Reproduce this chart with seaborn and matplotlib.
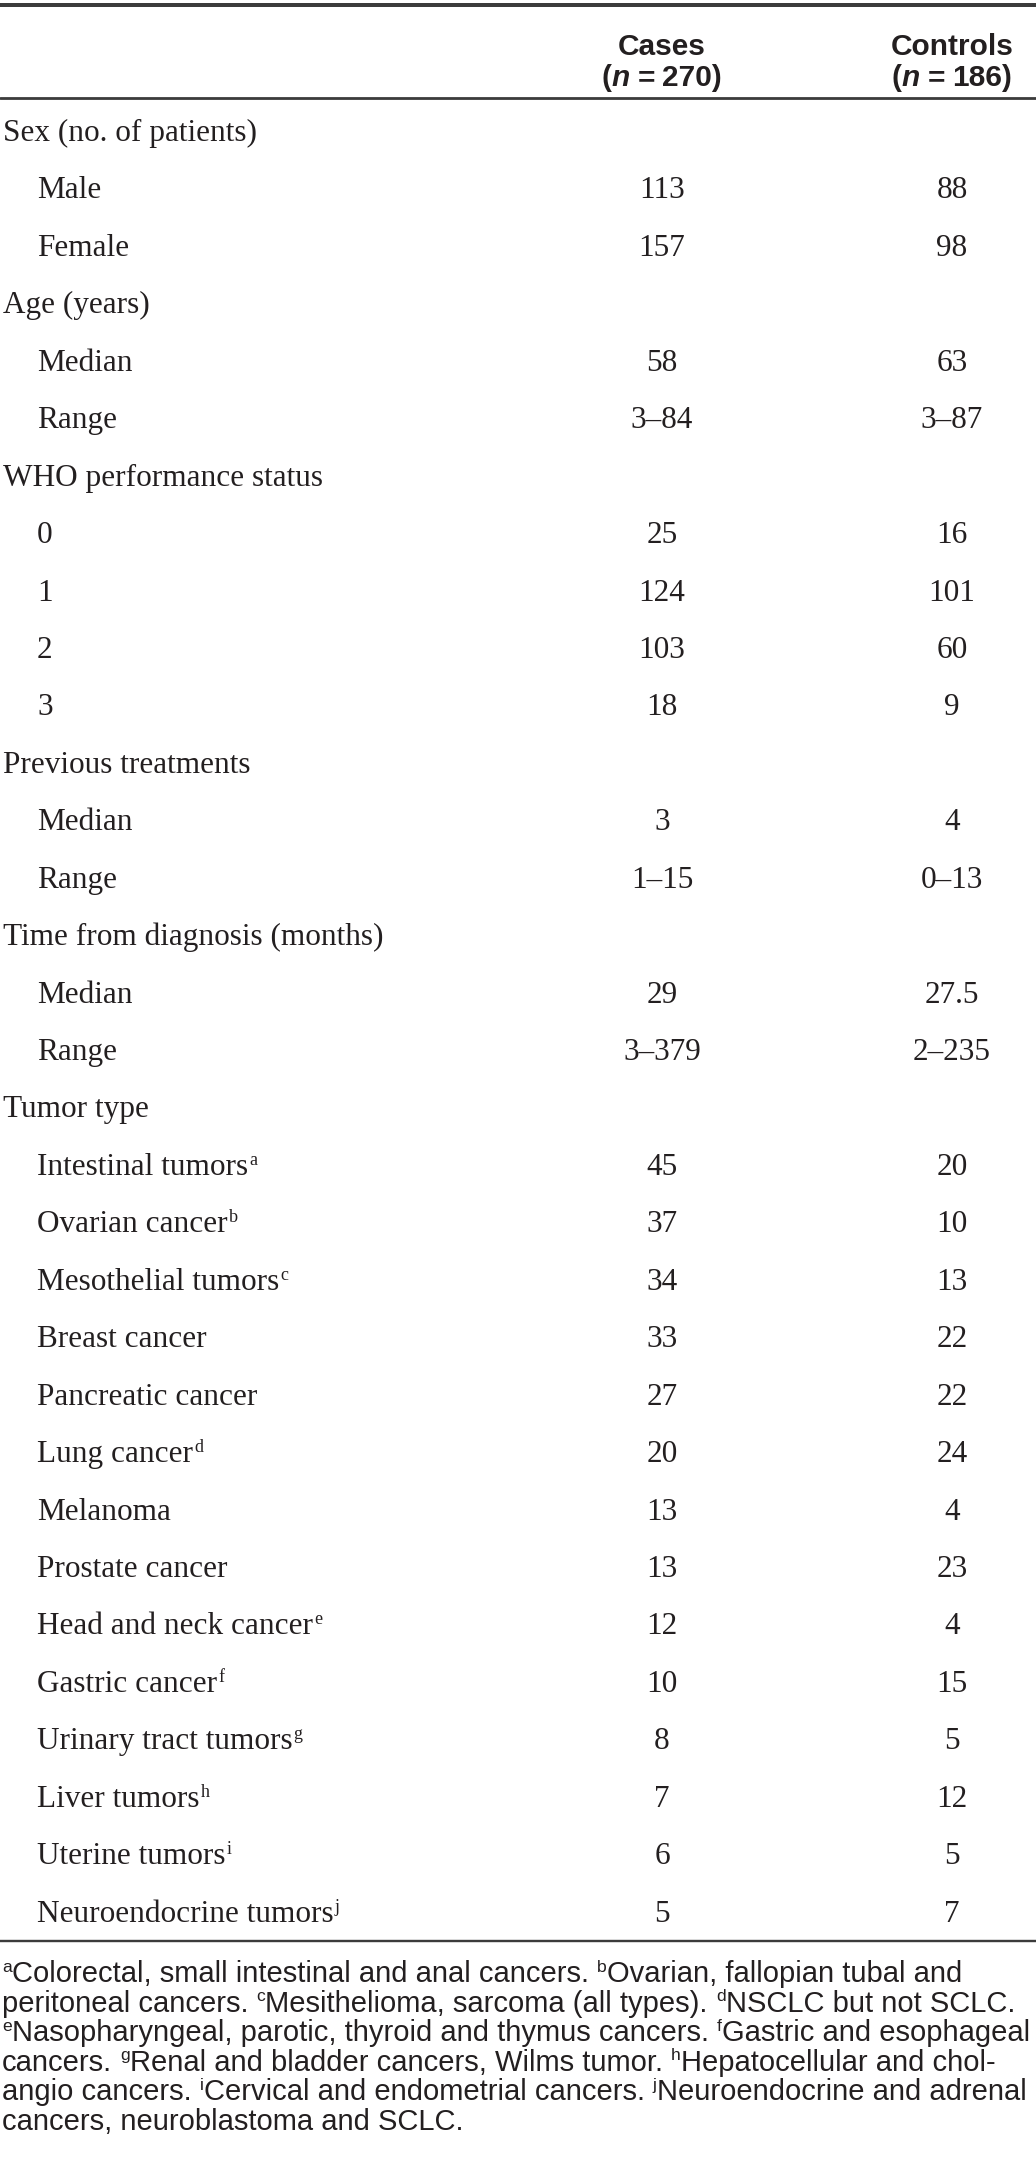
import re
import matplotlib
matplotlib.use("Agg")
import matplotlib.pyplot as plt
from matplotlib import font_manager as fm
import seaborn as sns
import pandas as pd

# ---------------- data ----------------
col_headers = ["Cases", "Controls"]
col_n = ["270", "186"]

row_labels = [
    "Sex (no. of patients)", "Male", "Female",
    "Age (years)", "Median", "Range",
    "WHO performance status", "0", "1", "2", "3",
    "Previous treatments", "Median", "Range",
    "Time from diagnosis (months)", "Median", "Range",
    "Tumor type",
    "Intestinal tumors", "Ovarian cancer", "Mesothelial tumors", "Breast cancer",
    "Pancreatic cancer", "Lung cancer", "Melanoma", "Prostate cancer",
    "Head and neck cancer", "Gastric cancer", "Urinary tract tumors",
    "Liver tumors", "Uterine tumors", "Neuroendocrine tumors",
]
row_level = [0, 1, 1, 0, 1, 1, 0, 1, 1, 1, 1, 0, 1, 1, 0, 1, 1, 0,
             1, 1, 1, 1, 1, 1, 1, 1, 1, 1, 1, 1, 1, 1]
row_sup = ["", "", "", "", "", "", "", "", "", "", "", "", "", "", "", "", "", "",
           "a", "b", "c", "", "", "d", "", "", "e", "f", "g", "h", "i", "j"]
cases = ["", "113", "157", "", "58", "3–84", "", "25", "124", "103", "18",
         "", "3", "1–15", "", "29", "3–379", "",
         "45", "37", "34", "33", "27", "20", "13", "13", "12", "10", "8", "7", "6", "5"]
controls = ["", "88", "98", "", "63", "3–87", "", "16", "101", "60", "9",
            "", "4", "0–13", "", "27.5", "2–235", "",
            "20", "10", "13", "22", "22", "24", "4", "23", "4", "15", "5", "12", "5", "7"]

footnote_lines = [
    "{a}Colorectal, small intestinal and anal cancers. {b}Ovarian, fallopian tubal and",
    "peritoneal cancers. {c}Mesithelioma, sarcoma (all types). {d}NSCLC but not SCLC.",
    "{e}Nasopharyngeal, parotic, thyroid and thymus cancers. {f}Gastric and esophageal",
    "cancers. {g}Renal and bladder cancers, Wilms tumor. {h}Hepatocellular and chol-",
    "angio cancers. {i}Cervical and endometrial cancers. {j}Neuroendocrine and adrenal",
    "cancers, neuroblastoma and SCLC.",
]

table = pd.DataFrame({"label": row_labels, "level": row_level, "sup": row_sup,
                      "cases": cases, "controls": controls})

# ---------------- style ----------------
sns.set_theme(style="white")
plt.rcParams["font.family"] = ["Liberation Serif", "DejaVu Serif"]


def has_font(name):
    try:
        fm.findfont(fm.FontProperties(family=name), fallback_to_default=False)
        return True
    except Exception:
        return False


SERIF = "Liberation Serif" if has_font("Liberation Serif") else "DejaVu Serif"
SANS = "Liberation Sans" if has_font("Liberation Sans") else "DejaVu Sans"
FOOT_FAMILY = "Liberation Sans Narrow" if has_font("Liberation Sans Narrow") else SANS

INK = "#231f20"
RULE = "#3c3c3c"

W, H = 1036, 2160
fig = plt.figure(figsize=(W / 100, H / 100), dpi=100)
ax = fig.add_axes([0, 0, 1, 1])
ax.set_xlim(0, W)
ax.set_ylim(H, 0)
ax.set_axis_off()
sns.despine(ax=ax, left=True, bottom=True)
renderer = fig.canvas.get_renderer()

PT = 100 / 72.0  # px per point


def make_text(s, size, family, weight="normal", style="normal"):
    return ax.text(0, 0, s, fontsize=size, family=family, weight=weight,
                   style=style, color=INK, ha="left", va="baseline")


def width_of(s, size, family, weight="normal", style="normal"):
    t = make_text(s, size, family, weight, style)
    w = t.get_window_extent(renderer).width
    t.remove()
    return w


def space_w(size, family, weight="normal"):
    return width_of("n n", size, family, weight) - width_of("nn", size, family, weight)


def draw_segments(x, y, segs, ha="left"):
    """segs: list of ('t', text, size, family, weight, style, dy) or ('g', px)."""
    items = []
    total = 0.0
    for sg in segs:
        if sg[0] == "g":
            items.append((None, sg[1], 0))
            total += sg[1]
        else:
            _, s, size, fam, wt, st, dy = sg
            t = make_text(s, size, fam, wt, st)
            w = t.get_window_extent(renderer).width
            items.append((t, w, dy))
            total += w
    cur = x - total / 2 if ha == "center" else x
    arts = []
    for t, w, dy in items:
        if t is not None:
            t.set_position((cur, y - dy))
            arts.append(t)
        cur += w
    return total, arts


# ---------------- layout ----------------
BODY = 22.5
SUP = 13.0
HEAD = 21.5
col_x = [662, 952]
x_group, x_item = 3, 37
row0_baseline, row_step = 141.0, 57.44

# rules
ax.axhline(4.5, color=RULE, lw=4.0 * 0.72)
ax.axhline(98, color=RULE, lw=2.8 * 0.72)
ax.axhline(1941, color=RULE, lw=2.4 * 0.72)

# header
hsp = space_w(HEAD, SANS, "bold") * 0.9
for cx, name, n in zip(col_x, col_headers, col_n):
    draw_segments(cx, 55, [("t", name, HEAD, SANS, "bold", "normal", 0)], ha="center")
    draw_segments(cx, 86, [
        ("t", "(", HEAD, SANS, "bold", "normal", 0),
        ("t", "n", HEAD, SANS, "bold", "italic", 0),
        ("g", hsp),
        ("t", "=", HEAD, SANS, "bold", "normal", 0),
        ("g", hsp),
        ("t", n + ")", HEAD, SANS, "bold", "normal", 0),
    ], ha="center")

# body rows
for i, r in table.iterrows():
    yb = row0_baseline + i * row_step
    x0 = x_group if r["level"] == 0 else x_item
    segs = [("t", r["label"], BODY, SERIF, "normal", "normal", 0)]
    if r["sup"]:
        segs += [("g", 1.0), ("t", r["sup"], SUP, SERIF, "normal", "normal", 10.0)]
    draw_segments(x0, yb, segs)
    for cx, val in zip(col_x, (r["cases"], r["controls"])):
        if val:
            draw_segments(cx, yb, [("t", val, BODY, SERIF, "normal", "normal", 0)], ha="center")


# footnotes: fit font size so the widest line spans the page width
def parse(line, size, sup_size):
    parts = re.split(r"\{(\w)\}", line)
    segs = []
    sp = space_w(size, FOOT_FAMILY)
    for k, p in enumerate(parts):
        if not p:
            continue
        if k % 2 == 1:
            segs.append(("t", p, sup_size, FOOT_FAMILY, "normal", "normal", size * PT * 0.36))
        else:
            trail = p.endswith(" ")
            segs.append(("t", p.rstrip(" "), size, FOOT_FAMILY, "normal", "normal", 0))
            if trail:
                segs.append(("g", sp))
    return segs


FOOT = 16.0
probe, probe_arts = draw_segments(0, 500, parse(footnote_lines[2], FOOT, FOOT * 0.6))
for t in probe_arts:
    t.remove()
FOOT = FOOT * 1030.0 / probe
foot_base, foot_step = 1982.0, 29.6
for k, line in enumerate(footnote_lines):
    draw_segments(2, foot_base + k * foot_step, parse(line, FOOT, FOOT * 0.6))

fig.savefig("out.png", dpi=100, facecolor="white")
